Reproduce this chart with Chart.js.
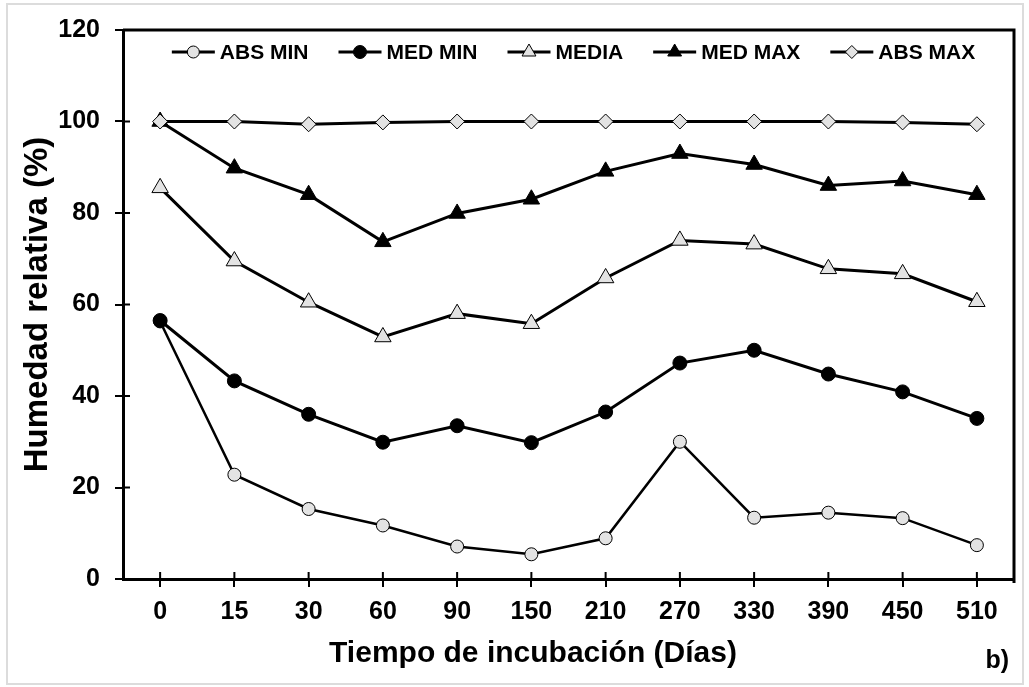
<!DOCTYPE html>
<html lang="es">
<head>
<meta charset="utf-8">
<title>Humedad relativa durante la incubación</title>
<script src="https://cdn.jsdelivr.net/npm/chart.js@4.4.1/dist/chart.umd.min.js"></script>
<style>
  html, body { margin: 0; padding: 0; background: #ffffff; }
  #wrap { position: relative; width: 1029px; height: 687px; overflow: hidden; }
  #edge { position: absolute; left: 6px; top: 3px; width: 1014px; height: 678px; border: 2px solid #dcdcdc; box-sizing: content-box; }
  #chart { position: absolute; left: 0; top: 0; }
</style>
</head>
<body>
<div id="wrap">
  <div id="edge"></div>
  <canvas id="chart" width="1029" height="687"></canvas>
</div>
<script>
// Días de incubación (categorías del eje X)
const dias = ['0', '15', '30', '60', '90', '150', '210', '270', '330', '390', '450', '510'];

// Humedad relativa (%) por serie
const absMin = [56.3, 22.8, 15.3, 11.7, 7.1, 5.4, 8.9, 30.0, 13.4, 14.5, 13.3, 7.4];
const medMin = [56.5, 43.3, 36.0, 29.9, 33.5, 29.8, 36.5, 47.2, 50.0, 44.8, 40.9, 35.1];
const media  = [85.5, 69.5, 60.5, 52.9, 58.0, 55.8, 65.8, 74.0, 73.2, 67.8, 66.7, 60.6];
const medMax = [100, 89.8, 84.0, 73.7, 79.9, 83.0, 89.1, 93.0, 90.6, 86.0, 87.0, 84.0];
const absMax = [100, 100, 99.4, 99.8, 100, 100, 100, 100, 100, 100, 99.8, 99.4];

// Marcas del eje Y
const yMin = 0, yMax = 120, yPaso = 20;

// Textos
const tituloX = 'Tiempo de incubación (Días)';
const tituloY = 'Humedad relativa (%)';
const rotuloPanel = 'b)';

const FONT = '"Liberation Sans", Arial, Helvetica, sans-serif';
const GRIS = '#e3e3e3';
const NEGRO = '#000000';

Chart.defaults.font.family = FONT;
Chart.defaults.color = NEGRO;

function serie(label, data, style, fill, radius, lineWidth, order, legendRadius) {
  return {
    label, data, order,
    borderColor: NEGRO,
    borderWidth: lineWidth,
    tension: 0,
    pointStyle: style,
    pointRadius: radius,
    pointHoverRadius: radius,
    pointBackgroundColor: fill,
    pointBorderColor: NEGRO,
    pointBorderWidth: 1,
    legendRadius,
    clip: false
  };
}

// Marco superior/derecho y marcas interiores de ambos ejes
const marco = {
  id: 'marco',
  beforeDatasetsDraw(chart) {
    const { ctx, chartArea: a, scales: { x, y } } = chart;
    ctx.save();
    ctx.strokeStyle = NEGRO;
    ctx.lineWidth = 3;
    ctx.beginPath();
    ctx.moveTo(a.left, a.top);
    ctx.lineTo(a.right, a.top);
    ctx.lineTo(a.right, a.bottom + 4);
    ctx.stroke();
    ctx.lineWidth = 2;
    ctx.beginPath();
    y.ticks.forEach((t) => {
      const py = y.getPixelForValue(t.value);
      ctx.moveTo(a.left, py);
      ctx.lineTo(a.left + 7, py);
    });
    x.ticks.forEach((t, i) => {
      const px = x.getPixelForTick(i);
      ctx.moveTo(px, a.bottom);
      ctx.lineTo(px, a.bottom - 7);
    });
    ctx.stroke();
    ctx.restore();
  }
};

// Leyenda en una fila dentro del área de trazado
const leyenda = {
  id: 'leyenda',
  afterDatasetsDraw(chart) {
    const { ctx, chartArea: a } = chart;
    const ds = chart.data.datasets;
    const linea = 43, sepTexto = 5, sepItem = 30;
    ctx.save();
    ctx.font = 'bold 21px ' + FONT;
    ctx.textBaseline = 'middle';
    const anchos = ds.map((d) => ctx.measureText(d.label).width);
    const total = anchos.reduce((s, w) => s + linea + sepTexto + w, 0) + sepItem * (ds.length - 1);
    let cx = (a.left + a.right) / 2 + 5 - total / 2;
    const cy = a.top + 22;
    ds.forEach((d, i) => {
      ctx.strokeStyle = NEGRO;
      ctx.lineWidth = 3;
      ctx.beginPath();
      ctx.moveTo(cx, cy);
      ctx.lineTo(cx + linea, cy);
      ctx.stroke();
      ctx.fillStyle = d.pointBackgroundColor;
      ctx.lineWidth = 1;
      Chart.helpers.drawPoint(ctx, { pointStyle: d.pointStyle, radius: d.legendRadius, rotation: 0, borderWidth: 1 }, cx + linea / 2, cy);
      ctx.fillStyle = NEGRO;
      ctx.fillText(d.label, cx + linea + sepTexto, cy + 1);
      cx += linea + sepTexto + anchos[i] + sepItem;
    });
    ctx.restore();
  }
};

// Título del eje X (desplazado a la izquierda) y rótulo del panel
const textos = {
  id: 'textos',
  afterDraw(chart) {
    const { ctx, chartArea: a } = chart;
    ctx.save();
    ctx.fillStyle = NEGRO;
    ctx.font = 'bold 30px ' + FONT;
    ctx.textAlign = 'center';
    ctx.textBaseline = 'middle';
    ctx.fillText(tituloX, a.left + 410, a.bottom + 75);
    ctx.font = 'bold 25px ' + FONT;
    ctx.textAlign = 'right';
    ctx.textBaseline = 'alphabetic';
    ctx.fillText(rotuloPanel, a.right - 5, a.bottom + 89);
    ctx.restore();
  }
};

new Chart(document.getElementById('chart'), {
  type: 'line',
  data: {
    labels: dias,
    datasets: [
      serie('ABS MIN', absMin, 'circle', GRIS, 6.5, 2.5, 4, 6),
      serie('MED MIN', medMin, 'circle', NEGRO, 7, 3, 3, 6.5),
      serie('MEDIA', media, 'triangle', GRIS, 9.5, 3, 2, 8),
      serie('MED MAX', medMax, 'triangle', NEGRO, 9.5, 3, 1, 8),
      serie('ABS MAX', absMax, 'rectRot', GRIS, 7.5, 3, 0, 6.5)
    ]
  },
  options: {
    responsive: false,
    devicePixelRatio: 1,
    animation: false,
    events: [],
    layout: { padding: { left: 8, right: 15, top: 30, bottom: 10 } },
    plugins: {
      legend: { display: false },
      tooltip: { enabled: false }
    },
    scales: {
      x: {
        type: 'category',
        offset: true,
        border: { display: true, color: NEGRO, width: 3 },
        grid: { drawOnChartArea: false, drawTicks: true, tickLength: 8, color: NEGRO, lineWidth: 2 },
        ticks: { font: { size: 25, weight: 'bold' }, color: NEGRO, padding: 10, maxRotation: 0, autoSkip: false },
        title: { display: false },
        afterFit(s) { s.height = 98; }
      },
      y: {
        min: yMin,
        max: yMax,
        border: { display: true, color: NEGRO, width: 3 },
        grid: { drawOnChartArea: false, drawTicks: true, tickLength: 8, color: NEGRO, lineWidth: 2 },
        ticks: { stepSize: yPaso, font: { size: 25, weight: 'bold' }, color: NEGRO, padding: 15 },
        title: {
          display: true,
          text: tituloY,
          font: { size: 33, weight: 'bold' },
          color: NEGRO,
          padding: { top: 10, bottom: 0 }
        },
        afterFit(s) { s.width = 115; }
      }
    }
  },
  plugins: [marco, leyenda, textos]
});
</script>
</body>
</html>
